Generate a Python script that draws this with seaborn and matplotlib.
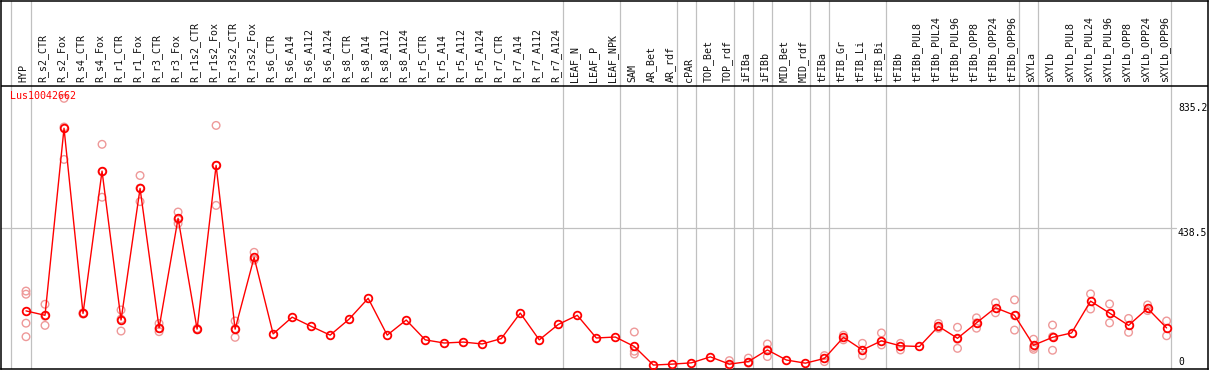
import numpy as np
import pandas as pd
import seaborn as sns
from matplotlib import pyplot as plt

gene = "Lus10042662"

samples = ["HYP", "R_s2_CTR", "R_s2_Fox", "R_s4_CTR", "R_s4_Fox", "R_r1_CTR", "R_r1_Fox",
           "R_r3_CTR", "R_r3_Fox", "R_r1s2_CTR", "R_r1s2_Fox", "R_r3s2_CTR", "R_r3s2_Fox",
           "R_s6_CTR", "R_s6_A14", "R_s6_A112", "R_s6_A124", "R_s8_CTR", "R_s8_A14",
           "R_s8_A112", "R_s8_A124", "R_r5_CTR", "R_r5_A14", "R_r5_A112", "R_r5_A124",
           "R_r7_CTR", "R_r7_A14", "R_r7_A112", "R_r7_A124", "LEAF_N", "LEAF_P", "LEAF_NPK",
           "SAM", "AR_Bet", "AR_rdf", "cPAR", "TOP_Bet", "TOP_rdf", "iFIBa", "iFIBb",
           "MID_Bet", "MID_rdf", "tFIBa", "tFIB_Gr", "tFIB_Li", "tFIB_Bi", "tFIBb",
           "tFIBb_PUL8", "tFIBb_PUL24", "tFIBb_PUL96", "tFIBb_OPP8", "tFIBb_OPP24",
           "tFIBb_OPP96", "sXYLa", "sXYLb", "sXYLb_PUL8", "sXYLb_PUL24", "sXYLb_PUL96",
           "sXYLb_OPP8", "sXYLb_OPP24", "sXYLb_OPP96"]

means = [175, 161, 755, 167, 619, 146, 564, 121, 469, 117, 637, 117, 345,
         102, 155, 126, 98, 149, 215, 98, 146, 83, 73, 76, 70, 87, 168, 83, 132,
         161, 89, 92, 62, 3, 6, 10, 29, 6, 14, 51, 19, 9, 24, 91, 51, 80, 64,
         62, 126, 88, 137, 185, 161, 66, 91, 105, 206, 168, 129, 183, 121]

replicates = [[238, 228, 136, 93], [196, 158, 129], [850, 759, 656], [169, 165],
              [704, 617, 536], [178, 149, 111], [605, 565, 522], [135, 119, 109],
              [489, 465, 453], [119, 115], [764, 637, 510], [143, 118, 91],
              [361, 339, 336],
              [], [], [], [], [], [], [], [], [], [], [], [], [], [], [], [],
              [], [], [],
              [108, 47, 38], [], [], [], [], [17, 1], [25, 9], [70, 52, 30],
              [], [], [33, 14], [98, 83], [72, 33], [105, 67], [72, 51],
              [], [135, 120], [123, 85, 56], [153, 137, 120], [201, 169],
              [210, 160, 114], [85, 59, 53], [130, 93, 50],
              [], [229, 181], [197, 137], [151, 107], [194, 176], [143, 96]]

# sample index after which a grey separator is drawn
separators = [-1, 0, 28, 31, 34, 35, 37, 38, 39, 41, 42, 45, 52, 53, 60]

y_ticks = [835.2, 438.5, 0]

# layout in pixels
W, H = 1209, 370
x0_px, step_px = 26.0, 19.01          # first sample x, spacing
zero_px, scale_px = 366.0, 263 / 835.2  # y pixel of 0, pixels per unit

def px_to_x(px):
    return (px - x0_px) / step_px

def py_to_y(py):
    return (zero_px - py) / scale_px

sns.set_style("white")
plt.rcParams['font.family'] = ['DejaVu Sans Mono']

fig = plt.figure(figsize=(W / 100, H / 100), dpi=100)
left, right, top, bottom = 0.5, 1207.5, 0.5, 368.5
ax = fig.add_axes([left / W, 1 - bottom / H, (right - left) / W, (bottom - top) / H])
ax.set_xlim(px_to_x(left), px_to_x(right))
ax.set_ylim(py_to_y(bottom), py_to_y(top))
for s in ax.spines.values():
    s.set_color("black")
    s.set_linewidth(1.1)
ax.set_xticks([])
ax.set_yticks([])

idx = np.arange(len(samples))
df = pd.DataFrame({"pos": idx, "sample": samples, "mean": means})
rep_df = pd.DataFrame([(i, v) for i, r in enumerate(replicates) for v in r],
                      columns=["pos", "value"])

# separators and grid
for s in separators:
    ax.axvline(s + 0.237, color="#c0c0c0", lw=0.9, zorder=1)
ax.plot([px_to_x(left), px_to_x(1176)], [438.5, 438.5], color="#c0c0c0", lw=0.9, zorder=1)
ax.axhline(py_to_y(85.5), color="black", lw=1.1, zorder=2)

# replicates (light) then the mean line
sns.scatterplot(data=rep_df, x="pos", y="value", ax=ax, marker="o", s=30,
                facecolor="none", edgecolor="#ee9999", linewidth=1.0, zorder=3)
sns.lineplot(data=df, x="pos", y="mean", ax=ax, color="red", lw=1.0, sort=False,
             marker="o", markersize=5.5, markerfacecolor="none",
             markeredgecolor="red", markeredgewidth=1.3, zorder=4)
ax.set_xlabel("")
ax.set_ylabel("")

for i, name in enumerate(samples):
    ax.text(i - 0.12, py_to_y(82), name, rotation=90, ha="center", va="bottom",
            fontsize=7.2, color="#111111")

# tick labels hang below their value, the bottom one is kept inside the frame
for t in y_ticks:
    ty = t if t > 0 else py_to_y(357)
    ax.text(px_to_x(1178), ty, f"{t:g}", ha="left", va="top", fontsize=7, color="black")

ax.text(px_to_x(10), py_to_y(91), gene, ha="left", va="top", fontsize=7.2, color="red")

fig.savefig("out.png", dpi=100)
